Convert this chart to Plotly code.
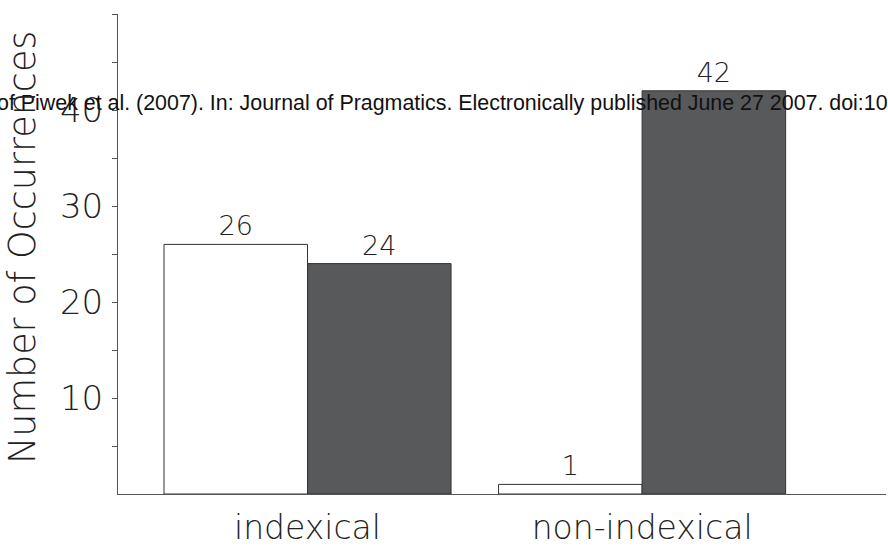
import plotly.graph_objects as go

categories = ["indexical", "non-indexical"]
series_a = [26, 1]
series_b = [24, 42]
y_ticks = [5, 10, 15, 20, 25, 30, 35, 40, 45, 50]
y_ticktext = ["", "10", "", "20", "", "30", "", "40", "", "50"]
y_title = "Number of Occurrences"
note = "of Piwek et al. (2007). In: Journal of Pragmatics. Electronically published June 27 2007. doi:10"

FONT = "DejaVu Sans"
W = 200
fig = go.Figure()
fig.add_trace(go.Bar(x=categories, y=series_a, marker=dict(color="white", line=dict(color="#333333", width=1)),
                     text=series_a, textposition="outside", cliponaxis=False,
                     textfont=dict(family=FONT, size=27, color="#222222", weight=W)))
fig.add_trace(go.Bar(x=categories, y=series_b, marker=dict(color="#58595b", line=dict(color="#333333", width=1)),
                     text=series_b, textposition="outside", cliponaxis=False,
                     textfont=dict(family=FONT, size=27, color="#222222", weight=W)))
fig.add_annotation(text=note, xref="paper", yref="paper", x=(890 - 118) / 768, y=1 - (103 - 14) / 480,
                   xanchor="right", yanchor="middle", showarrow=False,
                   font=dict(family="Liberation Sans, Arial", size=21.4, color="#111111"))
fig.add_annotation(text=y_title, xref="paper", yref="paper", x=(22 - 118) / 768, y=1 - (248 - 14) / 480,
                   xanchor="center", yanchor="middle", textangle=-90, showarrow=False,
                   font=dict(family=FONT, size=36.5, color="#222222", weight=W))
fig.update_layout(
    width=888, height=550, margin=dict(l=118, r=2, t=14, b=56, autoexpand=False),
    paper_bgcolor="white", plot_bgcolor="white", showlegend=False,
    barmode="group", bargap=0.142, bargroupgap=0,
    xaxis=dict(range=[-0.5665, 1.729], showline=True, linecolor="#555555", linewidth=1,
               ticks="", showgrid=False, ticklabelstandoff=4, automargin=False,
               tickfont=dict(family=FONT, size=33, color="#222222", weight=W)),
    yaxis=dict(range=[0, 50], showline=True, linecolor="#555555", linewidth=1, showgrid=False,
               zeroline=False, tickvals=y_ticks, ticktext=y_ticktext, ticks="outside", ticklen=5,
               tickcolor="#555555", ticklabelstandoff=2, automargin=False,
               tickfont=dict(family=FONT, size=34, color="#222222", weight=W)),
)
fig.write_html("out.html", config={"displayModeBar": False},
               post_script="document.body.style.margin='0';")
